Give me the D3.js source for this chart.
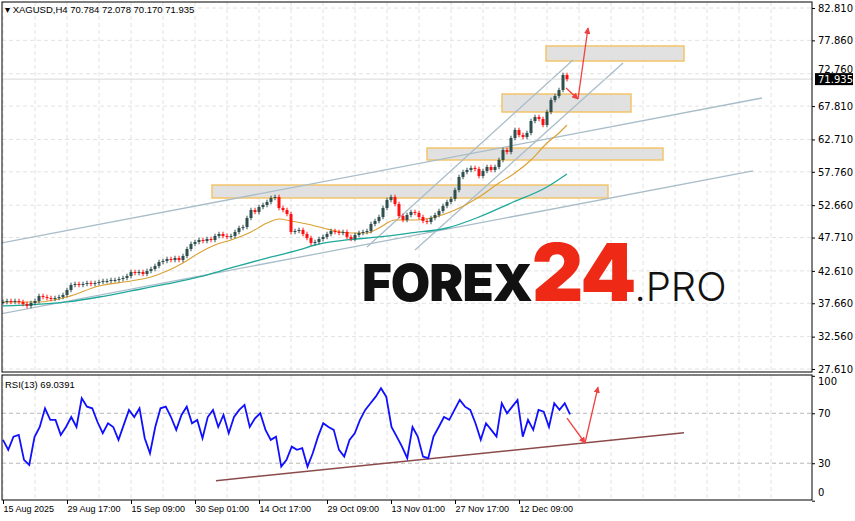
<!DOCTYPE html>
<html><head><meta charset="utf-8">
<script src="https://cdn.jsdelivr.net/npm/d3@7/dist/d3.min.js"></script>
<style>body{margin:0;background:#fff}svg{display:block}</style>
</head><body><svg id="c" width="855" height="521"></svg>
<script>
const closes=[37.86,38.01,37.86,38.01,37.86,37.55,37.25,37.70,38.01,38.77,
38.62,38.47,38.32,38.47,38.62,38.93,39.69,40.46,40.61,40.46,
40.61,40.76,40.61,40.76,40.92,41.07,41.07,41.22,41.22,41.37,
41.53,41.83,42.44,42.29,42.44,42.14,42.60,42.90,43.36,43.97,
44.13,44.43,44.28,44.58,44.28,44.89,45.96,46.73,47.03,47.34,
47.18,47.49,47.34,47.95,48.25,47.95,47.80,47.95,48.56,49.17,
49.32,50.70,51.92,51.62,52.38,52.69,53.15,53.76,53.91,52.23,
51.92,51.31,48.56,48.71,48.87,48.25,47.64,46.88,47.03,47.49,
47.80,48.25,48.71,48.56,48.41,48.56,47.80,47.49,48.10,48.41,
48.56,48.71,49.78,50.24,50.85,52.23,53.45,53.91,52.84,51.01,
50.40,51.16,51.62,51.47,50.85,50.24,50.09,50.70,51.16,51.77,
52.54,53.15,53.61,54.98,56.97,57.73,58.04,58.35,58.19,57.12,
57.89,58.50,58.04,58.50,59.57,61.10,60.79,62.93,64.16,63.39,
63.09,63.70,65.53,66.14,65.84,64.92,66.91,68.74,69.35,70.27,
72.57,71.935];
const maFast=[[0,37.86],[9,37.86],[16,38.62],[24,40.30],[32,41.07],[37,41.68],[41,42.60],[45,43.82],[49,45.35],[53,46.57],[57,47.34],[62,48.56],[66,49.93],[69,50.55],[72,50.24],[76,49.78],[82,48.87],[87,48.41],[91,48.41],[94,49.17],[98,50.40],[103,50.40],[108,50.85],[113,51.92],[119,53.91],[124,56.05],[128,57.58],[132,59.57],[136,62.17],[139,63.70],[141,64.92]];
const maSlow=[[0,37.25],[16,37.86],[24,38.62],[32,39.54],[41,40.61],[49,41.68],[57,43.06],[66,44.58],[74,45.81],[78,46.57],[86,47.34],[94,47.80],[102,48.41],[111,49.17],[119,50.85],[127,52.99],[136,55.44],[141,57.43]];
const rsi=[48.7,40.7,51.3,52.7,32.7,28.7,51,59,74,64.7,64.7,52.7,59,67,59,82,75.3,74,63,54,62,59,48.7,60.7,72.7,67,74,50,38,59,74,75.3,67,56.7,68.7,75.3,62,64.7,50,67,72.7,59,68.7,54,67,72.7,76.7,59,66,70,56.7,48.7,51.3,27.3,32.7,43.3,40.7,42,27.3,38,51.3,62,59,56.7,40.7,35.3,48.7,54,64.7,72.7,78,83.3,90,83.3,59,51.3,43.3,34,59,51.3,35.3,34,51.3,59,67,64.7,72.7,80.7,75.3,72.7,62,48.7,62,56.7,51.3,78,70,75.3,80.7,51.3,64.7,56.7,72.7,71.3,59,78,72.7,78,69.04];
const priceTicks=[82.810,77.860,72.760,67.810,62.710,57.760,52.660,47.710,42.610,37.660,32.560,27.610];
const rsiTicks=[100,70,30,0];
const dateLabels=["15 Aug 2025","29 Aug 17:00","15 Sep 09:00","30 Sep 01:00","14 Oct 17:00","29 Oct 09:00","13 Nov 01:00","27 Nov 17:00","12 Dec 09:00"];
const dateIdx=[0,16,32,48,64,81,97,113,129];
const trendLines=[[[-0.25,46.88],[189.75,69.05]],[[-0.75,36.02],[187.5,57.89]],[[91,46.27],[142.5,74.86]],[[103,45.81],[155,74.40]]];
const zones=[[135.75,170.25,77.00,74.71],[124.75,157,69.66,66.91],[106,165,61.40,59.57],[52.25,151.25,55.74,53.76]];
const priceArrows=[[[140.75,70.58],[143.75,68.90]],[[143.75,68.90],[146.25,79.75]]];
const rsiArrows=[[[141,66.2],[145.5,46.2]],[[145.5,46.2],[148.75,91]]];
const rsiTrend=[[53.25,16],[170.25,54.4]];
const lastPrice=71.935, rsiLast=69.0391;

const svg=d3.select("#c");
const L=2,R=812,T=2,B=372,RT=375,RB=500;
const x=d3.scaleLinear().domain([0,141]).range([3,567]);
const y=d3.scaleLinear().domain([27.610,82.810]).range([369,8]);
const yr=d3.scaleLinear().domain([0,100]).range([500.7,375.8]);
const font="Tahoma, 'DejaVu Sans', sans-serif";
const sfont="'Liberation Sans', Arial, sans-serif";
const defs=svg.append("defs");
defs.append("clipPath").attr("id","cm").append("rect").attr("x",L).attr("y",T).attr("width",R-L).attr("height",B-T);
defs.append("clipPath").attr("id","cr").append("rect").attr("x",L).attr("y",RT).attr("width",R-L).attr("height",RB-RT);
defs.append("marker").attr("id","ah").attr("viewBox","0 0 10 10").attr("refX",9).attr("refY",5).attr("markerWidth",5).attr("markerHeight",5).attr("orient","auto").append("path").attr("d","M0,0L10,5L0,10z").attr("fill","#f04040");

const gx=d3.range(0,200,8).map(x).filter(v=>v>L&&v<R);
const gm=svg.append("g").attr("stroke","#e2e2e2").attr("stroke-dasharray","4,3");
gx.forEach(v=>{gm.append("line").attr("x1",v).attr("x2",v).attr("y1",T).attr("y2",B);gm.append("line").attr("x1",v).attr("x2",v).attr("y1",RT).attr("y2",RB);});
priceTicks.forEach(p=>gm.append("line").attr("x1",L).attr("x2",R).attr("y1",y(p)).attr("y2",y(p)));
[70,30].forEach(v=>svg.append("line").attr("x1",L).attr("x2",R).attr("y1",yr(v)).attr("y2",yr(v)).attr("stroke","#b8b8b8").attr("stroke-dasharray","4,3"));

const gmain=svg.append("g").attr("clip-path","url(#cm)");
zones.forEach(z=>gmain.append("rect").attr("x",x(z[0])).attr("y",y(z[2])).attr("width",x(z[1])-x(z[0])).attr("height",y(z[3])-y(z[2])).attr("fill","#dcdcdc").attr("fill-opacity",0.85).attr("stroke","#f2c46a").attr("stroke-width",1.5));
trendLines.forEach(t=>gmain.append("line").attr("x1",x(t[0][0])).attr("y1",y(t[0][1])).attr("x2",x(t[1][0])).attr("y2",y(t[1][1])).attr("stroke","#a9bdc9").attr("stroke-width",1.3));
gmain.append("line").attr("x1",L).attr("x2",R).attr("y1",y(lastPrice)).attr("y2",y(lastPrice)).attr("stroke","#d8d8d8");
const ln=d3.line().x(d=>x(d[0])).y(d=>y(d[1])).curve(d3.curveMonotoneX);
gmain.append("path").attr("d",ln(maSlow)).attr("fill","none").attr("stroke","#1fa89a").attr("stroke-width",1.3);
gmain.append("path").attr("d",ln(maFast)).attr("fill","none").attr("stroke","#daa030").attr("stroke-width",1.1);
closes.forEach((c,i)=>{
  const o=i?closes[i-1]:c; const up=c>=o; const col=up?"#2f4f4f":"#ff1010";
  const hi=Math.max(o,c)+0.35, lo=Math.min(o,c)-0.35;
  gmain.append("line").attr("x1",x(i)).attr("x2",x(i)).attr("y1",y(hi)).attr("y2",y(lo)).attr("stroke",col);
  gmain.append("rect").attr("x",x(i)-1.5).attr("width",3).attr("y",y(Math.max(o,c))).attr("height",Math.max(1,y(Math.min(o,c))-y(Math.max(o,c)))).attr("fill",col);
});
priceArrows.forEach(a=>gmain.append("line").attr("x1",x(a[0][0])).attr("y1",y(a[0][1])).attr("x2",x(a[1][0])).attr("y2",y(a[1][1])).attr("stroke","#f04040").attr("stroke-width",1.3).attr("marker-end","url(#ah)"));

const wm=svg.append("text").attr("x",362).attr("y",301).attr("font-family","Inter, 'Open Sans', sans-serif");
wm.append("tspan").text("FOREX").attr("font-size",51).attr("font-weight",900).attr("fill","#111").attr("letter-spacing",-1);
wm.append("tspan").text("24").attr("font-size",80).attr("font-weight",900).attr("fill","#ee2a16").attr("letter-spacing",-2);
wm.append("tspan").text(".PRO").attr("font-size",40).attr("font-weight",300).attr("fill","#111");

const gr=svg.append("g").attr("clip-path","url(#cr)");
const xr=d3.scaleLinear().domain([0,rsi.length-1]).range([x(0),x(141.75)]);
gr.append("line").attr("x1",x(rsiTrend[0][0])).attr("y1",yr(rsiTrend[0][1])).attr("x2",x(rsiTrend[1][0])).attr("y2",yr(rsiTrend[1][1])).attr("stroke","#8c4a4a").attr("stroke-width",1.5);
gr.append("path").attr("d",d3.line().x((d,i)=>xr(i)).y(d=>yr(d))(rsi)).attr("fill","none").attr("stroke","#1010ff").attr("stroke-width",1.8);
rsiArrows.forEach(a=>gr.append("line").attr("x1",x(a[0][0])).attr("y1",yr(a[0][1])).attr("x2",x(a[1][0])).attr("y2",yr(a[1][1])).attr("stroke","#f04040").attr("stroke-width",1.3).attr("marker-end","url(#ah)"));

svg.append("rect").attr("x",L).attr("y",T).attr("width",R-L).attr("height",B-T).attr("fill","none").attr("stroke","#000");
svg.append("rect").attr("x",L).attr("y",RT).attr("width",R-L).attr("height",RB-RT).attr("fill","none").attr("stroke","#000");

const ax=svg.append("g").attr("transform",`translate(${R},0)`).call(d3.axisRight(y).tickValues(priceTicks.filter(p=>p!==72.760)).tickFormat(d3.format(".3f")).tickSize(3).tickPadding(3));
ax.select(".domain").remove();
ax.selectAll("text").attr("font-family",font).attr("font-size",10).attr("fill","#000");
ax.selectAll("line").attr("stroke","#000");
// partially covered tick label (as in the reference, hidden behind the price box)
svg.append("text").attr("x",R+6).attr("y",y(72.760)-1).text("72.760").attr("font-family",font).attr("font-size",10);
const lb=svg.append("g").attr("transform",`translate(${R+3},${y(lastPrice)})`);
lb.append("rect").attr("x",0).attr("y",-6).attr("width",38).attr("height",12).attr("fill","#000");
lb.append("text").attr("x",3).attr("y",4).text(d3.format(".3f")(lastPrice)).attr("fill","#fff").attr("font-family",font).attr("font-size",10);
const ar=svg.append("g").attr("transform",`translate(${R},0)`).call(d3.axisRight(yr).tickValues(rsiTicks).tickSize(3).tickPadding(3));
ar.select(".domain").remove();
ar.selectAll("text").attr("font-family",font).attr("font-size",10).attr("fill","#000").attr("dy",d=>d==100?"0.9em":d==0?"-0.5em":"0.32em");
ar.selectAll("line").attr("stroke","#000");
const axb=svg.append("g").attr("transform",`translate(0,${RB})`).call(d3.axisBottom(x).tickValues(dateIdx).tickFormat((d,i)=>dateLabels[i]).tickSize(4).tickPadding(2));
axb.select(".domain").remove();
axb.selectAll("text").attr("text-anchor","start").attr("font-family",sfont).attr("font-size",9).attr("fill","#000");
axb.selectAll("line").attr("stroke","#000");

svg.append("text").attr("x",5).attr("y",13).attr("font-family",sfont).attr("font-size",9.5).text("▾ XAGUSD,H4  70.784 72.078 70.170 71.935");
svg.append("text").attr("x",5).attr("y",388).attr("font-family",sfont).attr("font-size",9.5).text("RSI(13) "+rsiLast);
</script></body></html>
